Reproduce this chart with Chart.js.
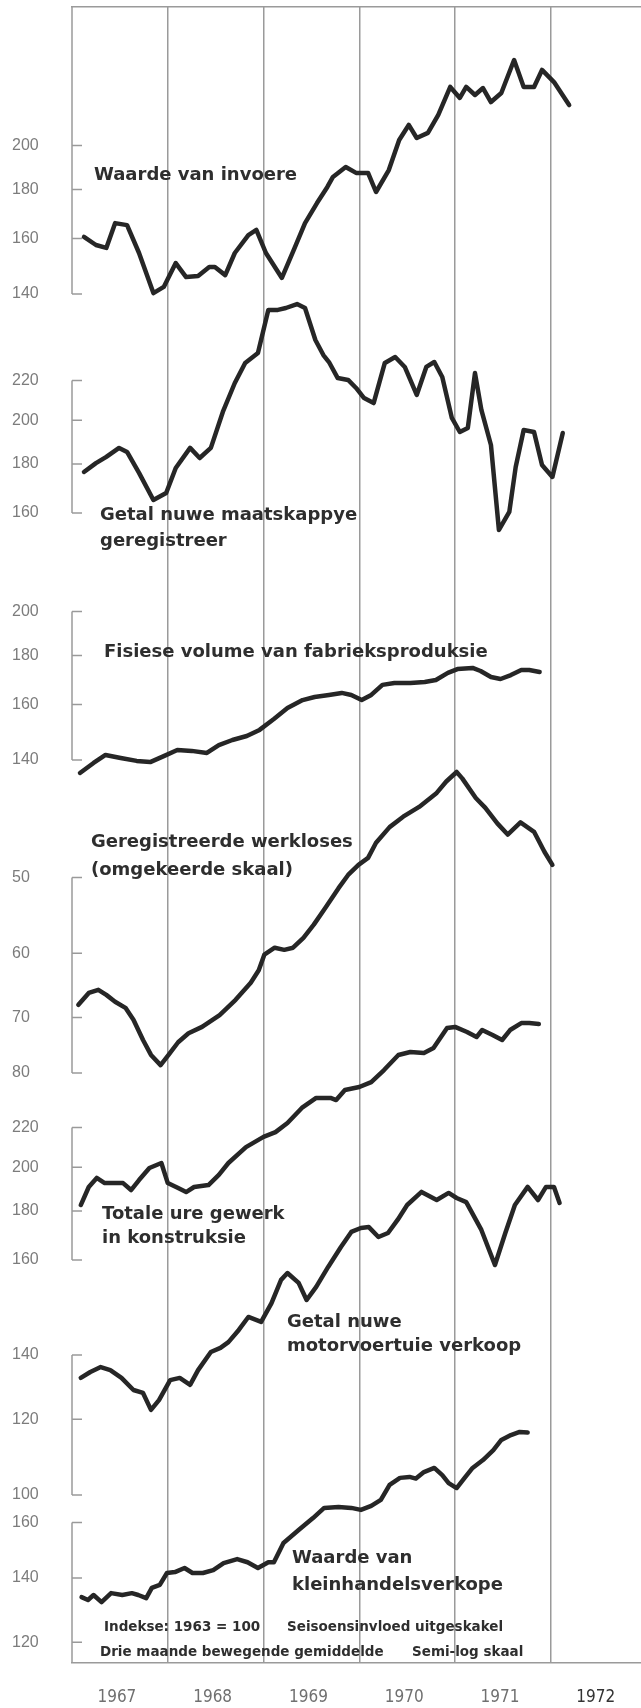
<!DOCTYPE html>
<html>
<head>
<meta charset="utf-8">
<title>Ekonomiese aanwysers 1967 - 1972</title>
<script src="https://cdn.jsdelivr.net/npm/chart.js@4.4.1/dist/chart.umd.min.js"></script>
<style>
  html, body { margin: 0; padding: 0; background: #fff; }
  #chart { display: block; }
</style>
</head>
<body>
<canvas id="chart" width="641" height="1708"></canvas>
<script>
// Ekonomiese aanwysers 1967 - 1972, indekse 1963 = 100, semi-log
// months are counted from 1 January 1967 (3-month moving averages)

const years = [1967, 1968, 1969, 1970, 1971, 1972];

// Waarde van invoere
const invoereMonths = [1.5, 3.0, 4.3, 5.4, 6.9, 8.4, 10.2, 11.5, 13.0, 14.3, 15.8, 17.2, 17.9, 19.2, 20.4, 22.1, 23.1, 24.3, 26.3, 27.9, 29.2, 30.7, 32.0, 32.7, 34.3, 35.6, 37.1, 38.1, 39.7, 41.0, 42.2, 43.2, 44.6, 45.9, 47.4, 48.6, 49.4, 50.5, 51.5, 52.5, 53.8, 55.4, 56.6, 57.9, 58.9, 60.4, 62.3];
const invoereValues = [160.6, 157.5, 156.4, 166.0, 165.2, 154.5, 140.3, 142.4, 150.8, 145.8, 146.2, 149.4, 149.4, 146.5, 154.5, 161.3, 163.3, 154.5, 145.5, 156.4, 166.0, 174.2, 181.1, 185.5, 190.0, 187.3, 187.3, 178.9, 188.6, 202.7, 210.2, 203.7, 206.2, 215.3, 230.3, 224.3, 230.3, 225.9, 229.7, 222.1, 227.0, 245.7, 230.3, 230.3, 239.9, 233.0, 220.5];

// Getal nuwe maatskappye geregistreer
const maatskappyeMonths = [1.5, 3.0, 4.3, 5.9, 6.9, 8.4, 10.2, 11.8, 13.0, 14.8, 16.0, 17.4, 18.9, 20.4, 21.7, 23.3, 24.6, 25.8, 26.8, 28.2, 29.2, 30.5, 31.5, 32.2, 33.3, 34.6, 35.6, 36.6, 37.8, 39.2, 40.5, 41.7, 43.2, 44.4, 45.4, 46.4, 47.6, 48.6, 49.6, 50.5, 51.3, 52.5, 53.5, 54.8, 55.6, 56.6, 57.9, 58.9, 60.2, 61.5];
const maatskappyeValues = [176.6, 180.4, 183.1, 187.1, 185.3, 176.2, 165.1, 167.9, 178.3, 187.1, 182.6, 187.1, 204.0, 218.7, 229.5, 235.0, 260.7, 260.7, 261.9, 264.4, 261.9, 242.5, 233.9, 230.0, 221.3, 220.3, 216.1, 210.9, 208.4, 229.5, 232.8, 227.3, 212.5, 227.3, 230.0, 221.9, 201.1, 194.4, 196.3, 224.0, 205.0, 188.4, 153.6, 160.4, 178.7, 195.3, 194.4, 179.6, 174.5, 193.9];

// Fisiese volume van fabrieksproduksie
const fabriekMonths = [1.0, 2.7, 4.2, 6.1, 8.1, 9.8, 11.5, 13.2, 15.0, 16.9, 18.4, 20.1, 21.9, 23.5, 25.3, 27.0, 28.9, 30.4, 32.2, 33.8, 35.0, 36.3, 37.5, 38.9, 40.4, 42.4, 44.2, 45.6, 47.1, 48.3, 50.2, 51.2, 52.5, 53.7, 55.0, 56.3, 57.3, 58.6];
const fabriekValues = [135.7, 139.0, 141.7, 140.7, 139.7, 139.3, 141.3, 143.4, 143.1, 142.4, 145.1, 146.9, 148.3, 150.5, 154.5, 158.6, 161.7, 162.9, 163.7, 164.5, 163.7, 161.7, 163.7, 167.7, 168.5, 168.5, 168.9, 169.7, 172.6, 174.2, 174.7, 173.4, 170.9, 170.1, 171.7, 173.8, 173.8, 173.0];

// Geregistreerde werkloses (omgekeerde skaal)
const werkloseMonths = [0.8, 2.1, 3.3, 4.3, 5.4, 6.7, 7.7, 8.9, 9.9, 11.1, 12.1, 13.3, 14.6, 16.3, 18.5, 20.5, 22.4, 23.4, 24.1, 25.4, 26.6, 27.7, 29.0, 30.3, 31.8, 33.4, 34.6, 35.9, 37.1, 38.1, 39.8, 41.5, 43.5, 45.7, 46.9, 48.2, 48.9, 50.6, 51.8, 53.3, 54.6, 56.2, 57.9, 59.2, 60.2];
const werkloseValues = [67.9, 66.0, 65.5, 66.3, 67.4, 68.4, 70.4, 73.9, 76.6, 78.5, 76.6, 74.3, 72.7, 71.6, 69.6, 67.1, 64.4, 62.5, 60.2, 59.2, 59.5, 59.2, 57.8, 56.0, 53.7, 51.3, 49.7, 48.5, 47.7, 46.0, 44.3, 43.2, 42.2, 40.8, 39.7, 38.8, 39.4, 41.3, 42.3, 43.9, 45.1, 43.8, 44.8, 47.0, 48.5];

// Totale ure gewerk in konstruksie
const konstruksieMonths = [1.1, 2.1, 3.1, 4.1, 5.1, 6.4, 7.4, 8.4, 9.7, 11.2, 12.0, 13.3, 14.3, 15.3, 17.1, 18.4, 19.6, 21.8, 24.0, 25.5, 27.0, 28.8, 30.6, 32.4, 33.1, 34.2, 36.0, 37.5, 39.1, 40.9, 42.4, 44.1, 45.3, 47.0, 48.0, 49.5, 50.7, 51.4, 52.7, 53.9, 54.9, 56.3, 57.3, 58.5];
const konstruksieValues = [182.6, 190.7, 194.9, 192.5, 192.5, 192.5, 189.3, 193.9, 199.6, 202.0, 192.5, 190.2, 188.4, 190.7, 191.6, 196.3, 202.0, 209.9, 215.1, 217.6, 222.4, 230.6, 236.2, 236.2, 235.0, 240.8, 242.5, 245.4, 252.6, 261.9, 263.8, 263.2, 266.3, 279.5, 280.2, 276.8, 273.5, 278.1, 274.8, 271.5, 278.1, 282.8, 282.8, 282.2];

// Getal nuwe motorvoertuie verkoop
const motorMonths = [1.1, 2.3, 3.6, 4.8, 6.2, 7.7, 8.9, 9.9, 10.9, 12.3, 13.5, 14.8, 15.8, 17.4, 18.6, 19.6, 20.9, 22.1, 23.7, 25.0, 26.2, 27.0, 28.4, 29.4, 30.6, 32.1, 33.7, 35.0, 36.2, 37.2, 38.4, 39.6, 40.8, 42.0, 43.8, 45.7, 47.2, 48.2, 49.4, 51.3, 53.0, 54.3, 55.5, 57.1, 58.4, 59.4, 60.4, 61.1];
const motorValues = [132.5, 134.4, 136.0, 135.0, 132.5, 128.7, 127.8, 122.7, 125.6, 131.8, 132.5, 130.3, 135.0, 141.0, 142.4, 144.4, 148.7, 153.4, 151.6, 158.6, 167.7, 170.5, 166.5, 159.8, 164.9, 173.0, 181.5, 188.2, 190.0, 190.4, 185.9, 187.7, 193.7, 200.8, 207.2, 203.2, 206.7, 204.2, 202.2, 189.1, 173.8, 187.7, 200.8, 209.7, 203.2, 209.7, 209.7, 201.8];

// Waarde van kleinhandelsverkope
const kleinhandelMonths = [1.2, 2.0, 2.7, 3.7, 4.9, 6.3, 7.5, 8.3, 9.3, 10.0, 11.0, 11.9, 12.9, 14.1, 15.1, 16.4, 17.7, 19.0, 20.7, 22.0, 23.3, 24.6, 25.3, 26.5, 28.4, 30.2, 31.6, 33.4, 35.0, 36.2, 37.5, 38.7, 39.8, 41.1, 42.3, 43.1, 44.1, 45.4, 46.4, 47.2, 48.2, 49.2, 50.2, 51.5, 52.8, 53.8, 55.0, 56.1, 57.1];
const kleinhandelValues = [133.7, 132.8, 134.4, 132.1, 135.0, 134.4, 135.0, 134.4, 133.4, 136.7, 137.7, 141.7, 142.0, 143.4, 141.7, 141.7, 142.7, 145.1, 146.5, 145.4, 143.4, 145.4, 145.4, 152.3, 157.1, 161.7, 165.7, 166.1, 165.7, 164.9, 166.5, 168.9, 175.1, 178.1, 178.5, 177.8, 180.6, 182.4, 179.3, 175.9, 173.8, 178.1, 182.4, 185.9, 190.4, 195.1, 197.4, 198.9, 198.6];

// tick labels of each little scale
const invoereTicks = [140, 160, 180, 200];
const maatskappyeTicks = [160, 180, 200, 220];
const fabriekTicks = [140, 160, 180, 200];
const werkloseTicks = [50, 60, 70, 80];
const konstruksieTicks = [160, 180, 200, 220];
const motorTicks = [100, 120, 140];
const kleinhandelTicks = [120, 140, 160];

// layout
const TOP = 7, BOTTOM = 1663, LEFT = 72, RIGHT = 641, HEIGHT = 1708;
const PX_PER_LN = 416;        // semi-log: same pixels per log unit in every panel
const PX_PER_MONTH = 7.98;
const LABEL_X = 12;
const INK = '#262626', GRID = '#9a9a9a', LABEL = '#7c7c7c', TEXT = '#2e2e2e';
const NARROW = '"Liberation Sans Narrow", "Arial Narrow", sans-serif';
const CONDENSED = '"DejaVu Sans Condensed", "Liberation Sans Narrow", sans-serif';
const TITLE_FONT = 'bold 18px "DejaVu Sans", sans-serif';
const NOTE_FONT = 'bold 13.5px "DejaVu Sans", sans-serif';

// each panel: its scale is anchored by one tick value and the pixel row where it sits
const panels = [
  { id: 'yInvoere', months: invoereMonths, values: invoereValues, ticks: invoereTicks, anchor: [140, 294], toTop: true },
  { id: 'yMaatskappye', months: maatskappyeMonths, values: maatskappyeValues, ticks: maatskappyeTicks, anchor: [160, 513] },
  { id: 'yFabriek', months: fabriekMonths, values: fabriekValues, ticks: fabriekTicks, anchor: [140, 760] },
  { id: 'yWerkloses', months: werkloseMonths, values: werkloseValues, ticks: werkloseTicks, anchor: [80, 1073], reverse: true },
  { id: 'yKonstruksie', months: konstruksieMonths, values: konstruksieValues, ticks: konstruksieTicks, anchor: [160, 1260] },
  { id: 'yMotor', months: motorMonths, values: motorValues, ticks: motorTicks, anchor: [140, 1355] },
  { id: 'yKleinhandel', months: kleinhandelMonths, values: kleinhandelValues, ticks: kleinhandelTicks, anchor: [140, 1578], toBottom: true }
];

const notes = [
  { text: 'Waarde van invoere', x: 94, y: 175 },
  { text: 'Getal nuwe maatskappye', x: 100, y: 515 },
  { text: 'geregistreer', x: 100, y: 541 },
  { text: 'Fisiese volume van fabrieksproduksie', x: 104, y: 652 },
  { text: 'Geregistreerde werkloses', x: 91, y: 842 },
  { text: '(omgekeerde skaal)', x: 91, y: 870 },
  { text: 'Totale ure gewerk', x: 102, y: 1214 },
  { text: 'in konstruksie', x: 102, y: 1238 },
  { text: 'Getal nuwe', x: 287, y: 1322 },
  { text: 'motorvoertuie verkoop', x: 287, y: 1346 },
  { text: 'Waarde van', x: 292, y: 1558 },
  { text: 'kleinhandelsverkope', x: 292, y: 1585 },
  { text: 'Indekse: 1963 = 100', x: 104, y: 1627, small: true },
  { text: 'Seisoensinvloed uitgeskakel', x: 287, y: 1627, small: true },
  { text: 'Drie maande bewegende gemiddelde', x: 100, y: 1652, small: true },
  { text: 'Semi-log skaal', x: 412, y: 1652, small: true }
];

function logBounds(p) {
  const [v, y] = p.anchor;
  const up = Math.exp((y - TOP) / PX_PER_LN);
  const down = Math.exp((BOTTOM - y) / PX_PER_LN);
  return p.reverse ? { min: v / up, max: v * down } : { min: v / down, max: v * up };
}

const xMax = (RIGHT - LEFT) / PX_PER_MONTH;
const lastYearTick = (years.length - 1) * 12 + 6;

const scales = {
  x: {
    type: 'linear', position: 'bottom', min: 0, max: xMax,
    afterBuildTicks: s => { s.ticks = years.flatMap((y, i) => [{ value: i * 12 }, { value: i * 12 + 6 }]); },
    afterFit: s => { s.height = HEIGHT - BOTTOM; s.paddingLeft = 0; s.paddingRight = 0; },
    grid: {
      drawTicks: false, lineWidth: 1.5,
      color: c => (c.tick && c.tick.value > 0 && c.tick.value % 12 === 0) ? GRID : 'rgba(0,0,0,0)'
    },
    border: { display: true, color: GRID, width: 1.5 },
    ticks: {
      autoSkip: false, maxRotation: 0, padding: 24, labelOffset: -3,
      color: c => (c.tick && c.tick.value === lastYearTick) ? '#333' : '#707070',
      font: { family: CONDENSED, size: 17 },
      callback: v => (v % 12 === 6 ? String(years[(v - 6) / 12]) : '')
    }
  },
  xTop: {
    type: 'linear', position: 'top', min: 0, max: xMax,
    afterFit: s => { s.height = 0; s.paddingLeft = 0; s.paddingRight = 0; },
    grid: { display: false, drawTicks: false },
    border: { display: true, color: GRID, width: 1.5 },
    ticks: { display: false }
  }
};

panels.forEach(p => {
  const b = logBounds(p);
  scales[p.id] = {
    type: 'logarithmic', position: 'left', bounds: 'data',
    min: b.min, max: b.max, reverse: !!p.reverse,
    afterBuildTicks: s => { s.ticks = p.ticks.map(v => ({ value: v })); },
    afterFit: s => { s.width = 0; s.paddingTop = 0; s.paddingBottom = 0; },
    grid: { display: false, drawTicks: false },
    border: { display: false },
    // mirrored so the labels are not clipped to the zero-width axis box,
    // then pulled back left of the frame with a negative padding
    ticks: {
      mirror: true, crossAlign: 'near', padding: LABEL_X - LEFT,
      color: LABEL, font: { family: NARROW, size: 16 }, callback: v => String(v)
    }
  };
});

// little [ brackets on the left edge and the printed captions
const brackets = {
  id: 'brackets',
  beforeDatasetsDraw(chart) {
    const { ctx, chartArea: a } = chart;
    ctx.save();
    ctx.strokeStyle = GRID;
    ctx.lineWidth = 1.5;
    panels.forEach(p => {
      const s = chart.scales[p.id];
      const ys = p.ticks.map(v => s.getPixelForValue(v));
      const y1 = p.toTop ? a.top : Math.min(...ys);
      const y2 = p.toBottom ? a.bottom : Math.max(...ys);
      ctx.beginPath();
      ctx.moveTo(a.left, y1);
      ctx.lineTo(a.left, y2);
      ys.forEach(y => { ctx.moveTo(a.left, y); ctx.lineTo(a.left + 10, y); });
      ctx.stroke();
    });
    ctx.restore();
  },
  afterDatasetsDraw(chart) {
    const ctx = chart.ctx;
    ctx.save();
    ctx.fillStyle = TEXT;
    ctx.textBaseline = 'middle';
    ctx.textAlign = 'left';
    notes.forEach(n => {
      ctx.font = n.small ? NOTE_FONT : TITLE_FONT;
      ctx.fillText(n.text, n.x, n.y);
    });
    ctx.restore();
  }
};

new Chart(document.getElementById('chart'), {
  type: 'line',
  data: {
    datasets: panels.map(p => ({
      label: p.id,
      data: p.months.map((m, i) => ({ x: m, y: p.values[i] })),
      xAxisID: 'x',
      yAxisID: p.id,
      borderColor: INK,
      borderWidth: 4.5,
      pointRadius: 0,
      tension: 0,
      borderJoinStyle: 'round',
      borderCapStyle: 'round'
    }))
  },
  options: {
    responsive: false,
    animation: false,
    devicePixelRatio: 1,
    events: [],
    layout: { padding: { top: TOP, left: LEFT, right: 0, bottom: 0 } },
    plugins: { legend: { display: false }, tooltip: { enabled: false } },
    scales
  },
  plugins: [brackets]
});
</script>
</body>
</html>
